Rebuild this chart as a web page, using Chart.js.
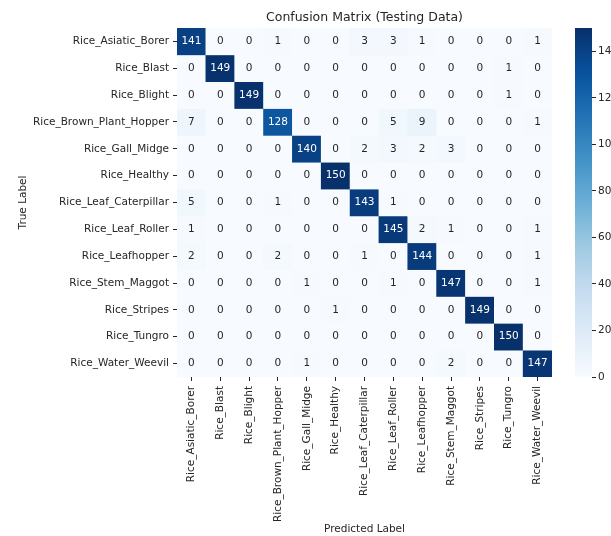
<!DOCTYPE html>
<html>
<head>
<meta charset="utf-8">
<script src="https://cdn.jsdelivr.net/npm/chart.js@4"></script>
<style>
  html, body { margin: 0; padding: 0; background: #ffffff; overflow: hidden; }
  #wrap { position: relative; width: 611px; height: 536px; }
  #matrix { position: absolute; left: 0; top: 0; }
  #cbar { position: absolute; left: 570px; top: 0; }
</style>
</head>
<body>
<div id="wrap">
  <canvas id="matrix" width="611" height="536"></canvas>
  <canvas id="cbar" width="41" height="536"></canvas>
</div>
<script>
// Class names (rows = true label, columns = predicted label)
const trueLabels = [
  'Rice_Asiatic_Borer', 'Rice_Blast', 'Rice_Blight', 'Rice_Brown_Plant_Hopper',
  'Rice_Gall_Midge', 'Rice_Healthy', 'Rice_Leaf_Caterpillar', 'Rice_Leaf_Roller',
  'Rice_Leafhopper', 'Rice_Stem_Maggot', 'Rice_Stripes', 'Rice_Tungro', 'Rice_Water_Weevil'
];
const predictedLabels = trueLabels.slice();

// Counts per true class, one array per row
const rowAsiaticBorer   = [141, 0, 0, 1, 0, 0, 3, 3, 1, 0, 0, 0, 1];
const rowBlast          = [0, 149, 0, 0, 0, 0, 0, 0, 0, 0, 0, 1, 0];
const rowBlight         = [0, 0, 149, 0, 0, 0, 0, 0, 0, 0, 0, 1, 0];
const rowBrownHopper    = [7, 0, 0, 128, 0, 0, 0, 5, 9, 0, 0, 0, 1];
const rowGallMidge      = [0, 0, 0, 0, 140, 0, 2, 3, 2, 3, 0, 0, 0];
const rowHealthy        = [0, 0, 0, 0, 0, 150, 0, 0, 0, 0, 0, 0, 0];
const rowLeafCaterpillar= [5, 0, 0, 1, 0, 0, 143, 1, 0, 0, 0, 0, 0];
const rowLeafRoller     = [1, 0, 0, 0, 0, 0, 0, 145, 2, 1, 0, 0, 1];
const rowLeafhopper     = [2, 0, 0, 2, 0, 0, 1, 0, 144, 0, 0, 0, 1];
const rowStemMaggot     = [0, 0, 0, 0, 1, 0, 0, 1, 0, 147, 0, 0, 1];
const rowStripes        = [0, 0, 0, 0, 0, 1, 0, 0, 0, 0, 149, 0, 0];
const rowTungro         = [0, 0, 0, 0, 0, 0, 0, 0, 0, 0, 0, 150, 0];
const rowWaterWeevil    = [0, 0, 0, 0, 1, 0, 0, 0, 0, 2, 0, 0, 147];

const counts = [
  rowAsiaticBorer, rowBlast, rowBlight, rowBrownHopper, rowGallMidge, rowHealthy,
  rowLeafCaterpillar, rowLeafRoller, rowLeafhopper, rowStemMaggot, rowStripes,
  rowTungro, rowWaterWeevil
];

// Colour scale range and colour bar ticks
const vmin = 0;
const vmax = 150;
const colorbarTicks = [0, 20, 40, 60, 80, 100, 120, 140];

// "Blues" sequential palette stops
const bluesStops = [
  [247, 251, 255], [222, 235, 247], [198, 219, 239], [158, 202, 225],
  [107, 174, 214], [66, 146, 198], [33, 113, 181], [8, 81, 156], [8, 48, 107]
];

function bluesRGB(t) {
  t = Math.max(0, Math.min(1, t));
  const pos = t * (bluesStops.length - 1);
  const i = Math.min(Math.floor(pos), bluesStops.length - 2);
  const f = pos - i;
  const a = bluesStops[i], b = bluesStops[i + 1];
  return [0, 1, 2].map(k => Math.round(a[k] + (b[k] - a[k]) * f));
}
function colorFor(v) {
  const c = bluesRGB((v - vmin) / (vmax - vmin));
  return `rgb(${c[0]},${c[1]},${c[2]})`;
}
function luminance(rgb) {
  const lin = rgb.map(c => {
    c /= 255;
    return c <= 0.03928 ? c / 12.92 : Math.pow((c + 0.055) / 1.055, 2.4);
  });
  return 0.2126 * lin[0] + 0.7152 * lin[1] + 0.0722 * lin[2];
}
function textColorFor(v) {
  const lum = luminance(bluesRGB((v - vmin) / (vmax - vmin)));
  return lum > 0.408 ? '#262626' : '#ffffff';
}

const FONT = 'DejaVu Sans';
const TEXT = '#262626';
const SIZE = 10.5;

// Each row is a dataset of floating bars spanning [row - 0.5, row + 0.5]
const datasets = counts.map((row, r) => ({
  label: trueLabels[r],
  data: row.map(() => [r - 0.5, r + 0.5]),
  backgroundColor: row.map(v => colorFor(v)),
  borderWidth: 0,
  grouped: false,
  categoryPercentage: 1.0,
  barPercentage: 1.0
}));

// Writes the count in the middle of every cell
const cellText = {
  id: 'cellText',
  afterDatasetsDraw(chart) {
    const { ctx, scales: { x, y } } = chart;
    ctx.save();
    ctx.font = `${SIZE}px "${FONT}"`;
    ctx.textAlign = 'center';
    ctx.textBaseline = 'middle';
    counts.forEach((row, r) => {
      row.forEach((v, c) => {
        ctx.fillStyle = textColorFor(v);
        ctx.fillText(String(v), x.getPixelForValue(c), y.getPixelForValue(r));
      });
    });
    ctx.restore();
  }
};

new Chart(document.getElementById('matrix'), {
  type: 'bar',
  data: { labels: predictedLabels, datasets },
  plugins: [cellText],
  options: {
    responsive: false,
    animation: false,
    devicePixelRatio: 1,
    layout: { padding: { left: 0, right: 59, top: 0, bottom: 0 } },
    plugins: {
      legend: { display: false },
      tooltip: { enabled: false },
      title: {
        display: true,
        text: 'Confusion Matrix (Testing Data)',
        fullSize: false,
        color: TEXT,
        font: { family: FONT, size: 12.5, weight: 'normal' },
        padding: { top: 10.5, bottom: 2.5 }
      }
    },
    scales: {
      x: {
        type: 'category',
        offset: true,
        border: { display: false },
        grid: { display: true, drawOnChartArea: false, offset: false, tickLength: 4, color: TEXT, lineWidth: 1 },
        ticks: {
          autoSkip: false, minRotation: 90, maxRotation: 90, padding: 5,
          color: TEXT, font: { family: FONT, size: SIZE }
        },
        title: {
          display: true, text: 'Predicted Label', color: TEXT,
          font: { family: FONT, size: SIZE }, padding: { top: 0, bottom: 0 }
        },
        afterFit(axis) { axis.height = 159; }
      },
      y: {
        type: 'linear',
        reverse: true,
        min: -0.5,
        max: trueLabels.length - 0.5,
        border: { display: false },
        grid: { display: true, drawOnChartArea: false, tickLength: 4, color: TEXT, lineWidth: 1 },
        afterBuildTicks(axis) { axis.ticks = trueLabels.map((_, i) => ({ value: i })); },
        ticks: {
          autoSkip: false, padding: 4, color: TEXT, font: { family: FONT, size: SIZE },
          callback: (v) => trueLabels[v]
        },
        title: {
          display: true, text: 'True Label', color: TEXT,
          font: { family: FONT, size: SIZE }, padding: { top: 17, bottom: 0 }
        },
        afterFit(axis) { axis.width = 177; }
      }
    }
  }
});

// Colour bar: one floating bar filled with the palette gradient
function barGradient(context) {
  const { chart } = context;
  const area = chart.chartArea;
  if (!area) return bluesStops[0];
  const g = chart.ctx.createLinearGradient(0, area.bottom, 0, area.top);
  bluesStops.forEach((c, i) => g.addColorStop(i / (bluesStops.length - 1), `rgb(${c[0]},${c[1]},${c[2]})`));
  return g;
}

new Chart(document.getElementById('cbar'), {
  type: 'bar',
  data: {
    labels: [''],
    datasets: [{
      data: [[vmin, vmax]],
      backgroundColor: barGradient,
      borderWidth: 0,
      categoryPercentage: 1.0,
      barPercentage: 1.0
    }]
  },
  options: {
    responsive: false,
    animation: false,
    devicePixelRatio: 1,
    layout: { padding: { left: 5, right: 0, top: 28, bottom: 159 } },
    plugins: { legend: { display: false }, tooltip: { enabled: false } },
    scales: {
      x: { display: false },
      y: {
        position: 'right',
        min: vmin,
        max: vmax,
        border: { display: false },
        grid: { display: true, drawOnChartArea: false, tickLength: 4, color: TEXT },
        afterBuildTicks(axis) { axis.ticks = colorbarTicks.map(v => ({ value: v })); },
        ticks: { padding: 2, color: TEXT, font: { family: FONT, size: SIZE } },
        afterFit(axis) { axis.width = 19; }
      }
    }
  }
});
</script>
</body>
</html>
